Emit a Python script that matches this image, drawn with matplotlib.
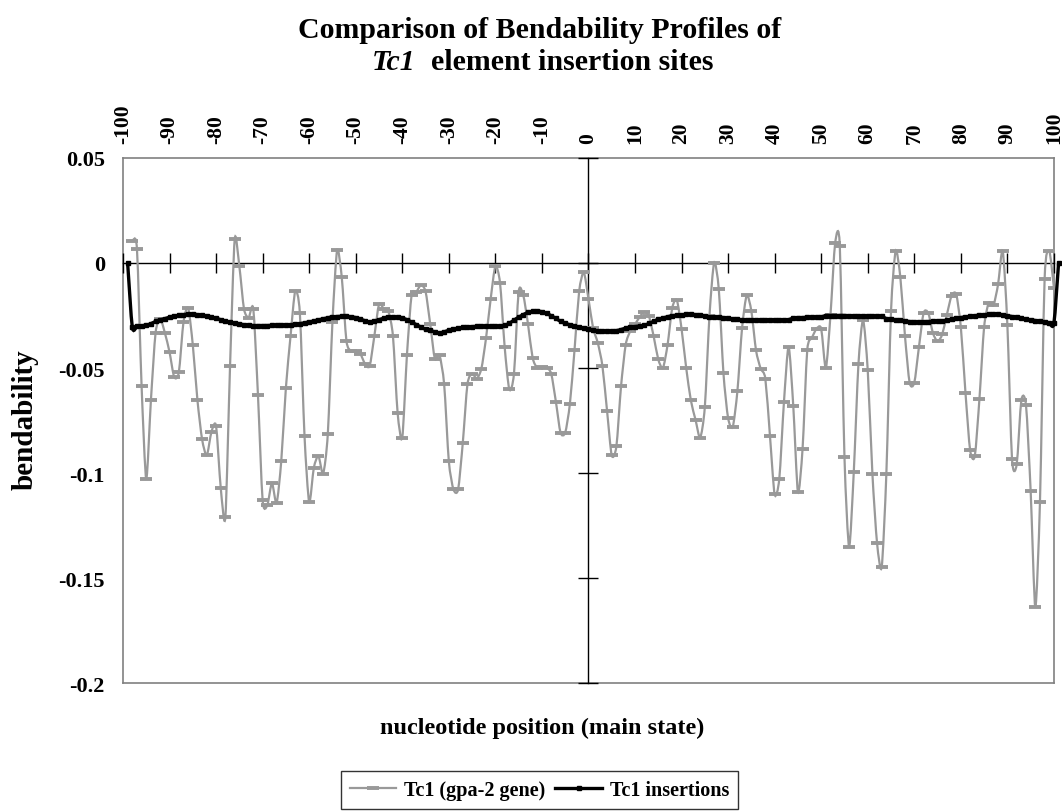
import matplotlib
matplotlib.use("Agg")
import matplotlib.pyplot as plt
from matplotlib.path import Path
from matplotlib.patches import PathPatch
from matplotlib.lines import Line2D
import numpy as np

plt.rcParams['font.family'] = ['Liberation Serif', 'DejaVu Serif']
plt.rcParams['font.weight'] = 'bold'

# Tc1 (gpa-2 gene): positions -98 .. 100
gene_start = -98
gene_vals = [
    0.0103, 0.0068, -0.0587, -0.1027, -0.0654, -0.0333, -0.0265, -0.0333, -0.0424, -0.0543,
    -0.0520, -0.0281, -0.0214, -0.0390, -0.0654, -0.0840, -0.0916, -0.0805, -0.0776, -0.1070,
    -0.1210, -0.0492, 0.0113, -0.0016, -0.0219, -0.0260, -0.0219, -0.0630, -0.1130, -0.1154,
    -0.1048, -0.1143, -0.0944, -0.0594, -0.0348, -0.0135, -0.0238, -0.0824, -0.1138, -0.0975,
    -0.0919, -0.1003, -0.0816, -0.0281, 0.0060, -0.0067, -0.0370, -0.0420, -0.0420, -0.0433,
    -0.0480, -0.0490, -0.0348, -0.0197, -0.0217, -0.0230, -0.0348, -0.0713, -0.0832, -0.0440,
    -0.0154, -0.0138, -0.0106, -0.0135, -0.0290, -0.0456, -0.0440, -0.0578, -0.0943, -0.1078,
    -0.1078, -0.0857, -0.0578, -0.0527, -0.0550, -0.0503, -0.0357, -0.0170, -0.0016, -0.0094,
    -0.0400, -0.0602, -0.0527, -0.0138, -0.0154, -0.0289, -0.0451, -0.0500, -0.0495, -0.0498,
    -0.0527, -0.0660, -0.0808, -0.0808, -0.0673, -0.0416, -0.0135, -0.0045, -0.0170,
    # 1 .. 100
    -0.0310, -0.0380, -0.0490, -0.0705, -0.0916, -0.0873, -0.0587, -0.0389, -0.0324, -0.0292,
    -0.0257, -0.0233, -0.0254, -0.0348, -0.0459, -0.0500, -0.0389, -0.0214, -0.0178, -0.0313,
    -0.0500, -0.0654, -0.0746, -0.0832, -0.0686, -0.0250, 0.0001, -0.0125, -0.0524, -0.0738,
    -0.0780, -0.0610, -0.0310, -0.0154, -0.0229, -0.0416, -0.0503, -0.0551, -0.0825, -0.1102,
    -0.1027, -0.0662, -0.0400, -0.0680, -0.1090, -0.0884, -0.0416, -0.0357, -0.0313, -0.0313,
    -0.0500, -0.0246, 0.0095, 0.0080, -0.0924, -0.1350, -0.0995, -0.0483, -0.0273, -0.0511,
    -0.1003, -0.1333, -0.1448, -0.1003, -0.0230, 0.0057, -0.0067, -0.0348, -0.0570, -0.0570,
    -0.0400, -0.0238, -0.0238, -0.0333, -0.0373, -0.0340, -0.0246, -0.0157, -0.0149, -0.0305,
    -0.0619, -0.0892, -0.0919, -0.0646, -0.0305, -0.0190, -0.0202, -0.0102, 0.0057, -0.0297,
    -0.0935, -0.0959, -0.0654, -0.0678, -0.1086, -0.1638, -0.1138, -0.0075, 0.0057, -0.0119,
]

# Tc1 insertions: positions -99 .. 101
ins_start = -99
ins_vals = [
    0.0000, -0.0305, -0.0302, -0.0299, -0.0296, -0.0289, -0.0278, -0.0271, -0.0265, -0.0258,
    -0.0253, -0.0249, -0.0246, -0.0244, -0.0244, -0.0246, -0.0249, -0.0254, -0.0258, -0.0263,
    -0.0270, -0.0277, -0.0283, -0.0287, -0.0290, -0.0294, -0.0297, -0.0298, -0.0298, -0.0298,
    -0.0298, -0.0297, -0.0297, -0.0296, -0.0295, -0.0294, -0.0292, -0.0289, -0.0285, -0.0281,
    -0.0276, -0.0271, -0.0266, -0.0261, -0.0257, -0.0255, -0.0254, -0.0254, -0.0256, -0.0260,
    -0.0267, -0.0275, -0.0281, -0.0277, -0.0270, -0.0263, -0.0257, -0.0257, -0.0259, -0.0262,
    -0.0270, -0.0282, -0.0293, -0.0305, -0.0316, -0.0321, -0.0328, -0.0333, -0.0328, -0.0320,
    -0.0315, -0.0310, -0.0307, -0.0305, -0.0303, -0.0302, -0.0302, -0.0302, -0.0302, -0.0302,
    -0.0302, -0.0297, -0.0287, -0.0272, -0.0258, -0.0246, -0.0235, -0.0230, -0.0229, -0.0232,
    -0.0240, -0.0251, -0.0264, -0.0278, -0.0287, -0.0294, -0.0300, -0.0305, -0.0310,
    # 0 .. 101
    -0.0315, -0.0320, -0.0324, -0.0324, -0.0324, -0.0324, -0.0322, -0.0317, -0.0310, -0.0306,
    -0.0303, -0.0300, -0.0297, -0.0288, -0.0278, -0.0268, -0.0262, -0.0256, -0.0251, -0.0249,
    -0.0247, -0.0245, -0.0244, -0.0246, -0.0248, -0.0252, -0.0257, -0.0258, -0.0259, -0.0260,
    -0.0263, -0.0266, -0.0269, -0.0270, -0.0270, -0.0270, -0.0270, -0.0270, -0.0270, -0.0270,
    -0.0270, -0.0270, -0.0270, -0.0270, -0.0262, -0.0260, -0.0260, -0.0259, -0.0258, -0.0257,
    -0.0257, -0.0250, -0.0250, -0.0250, -0.0250, -0.0250, -0.0251, -0.0251, -0.0252, -0.0252,
    -0.0253, -0.0253, -0.0254, -0.0254, -0.0265, -0.0268, -0.0270, -0.0272, -0.0276, -0.0279,
    -0.0281, -0.0281, -0.0280, -0.0279, -0.0278, -0.0277, -0.0276, -0.0272, -0.0267, -0.0263,
    -0.0260, -0.0257, -0.0254, -0.0251, -0.0249, -0.0247, -0.0244, -0.0241, -0.0243, -0.0247,
    -0.0251, -0.0255, -0.0259, -0.0263, -0.0267, -0.0271, -0.0274, -0.0278, -0.0282, -0.0286,
    -0.0286, 0.0000,
]

x_ticks = list(range(-100, 101, 10))
x_labels = [str(t) for t in x_ticks]
y_ticks = [0.05, 0.0, -0.05, -0.1, -0.15, -0.2]
y_labels = ["0.05", "0", "-0.05", "-0.1", "-0.15", "-0.2"]

gene_x = np.arange(gene_start, gene_start + len(gene_vals))
ins_x = np.arange(ins_start, ins_start + len(ins_vals))


def smooth_path(x, y, k=8.0):
    # Excel-like smoothed line: Catmull-Rom style segments as cubic Beziers
    pts = np.column_stack([x, y]).astype(float)
    n = len(pts)
    verts = [pts[0]]
    codes = [Path.MOVETO]
    for i in range(n - 1):
        p0 = pts[i - 1] if i > 0 else pts[i]
        p1 = pts[i]
        p2 = pts[i + 1]
        p3 = pts[i + 2] if i + 2 < n else pts[i + 1]
        verts += [p1 + (p2 - p0) / k, p2 - (p3 - p1) / k, p2]
        codes += [Path.CURVE4] * 3
    return Path(verts, codes)


fig = plt.figure(figsize=(10.62, 8.12), dpi=100)
rect = [0.1158, 0.1576, 0.8766, 0.6466]

# outer frame carrying the labels
frame = fig.add_axes(rect)
frame.set_xlim(-100, 100)
frame.set_ylim(-0.2, 0.05)
for s in frame.spines.values():
    s.set_color("#808080")
    s.set_linewidth(1.2)
frame.set_xticks(x_ticks, x_labels, rotation=90, fontsize=15.5, fontweight="bold")
frame.set_yticks(y_ticks, y_labels, fontsize=16, fontweight="bold")
frame.tick_params(axis="x", length=0, labeltop=True, labelbottom=False, pad=11)
frame.tick_params(axis="y", length=0, pad=13)

# axes crossing at (0, 0)
ax = fig.add_axes(rect)
ax.set_facecolor("none")
ax.set_xlim(-100, 100)
ax.set_ylim(-0.2, 0.05)
ax.spines["top"].set_visible(False)
ax.spines["right"].set_visible(False)
ax.spines["left"].set_position(("data", 0))
ax.spines["bottom"].set_position(("data", 0))
for s in ("left", "bottom"):
    ax.spines[s].set_color("black")
    ax.spines[s].set_linewidth(1)
ax.set_xticks(x_ticks)
ax.set_yticks(y_ticks)
ax.tick_params(direction="inout", length=14, width=1, labelleft=False, labelbottom=False)

gray = "#999999"
ax.add_patch(PathPatch(smooth_path(gene_x, gene_vals), fill=False, edgecolor=gray,
                       lw=1.6, zorder=3))
ax.plot(gene_x, gene_vals, ls="none", color=gray, marker="_", ms=8, mew=2.8, zorder=3)
ax.add_patch(PathPatch(smooth_path(ins_x, ins_vals), fill=False, edgecolor="black",
                       lw=2.4, zorder=4, clip_on=False))
ax.plot(ins_x, ins_vals, ls="none", color="black", marker="s", ms=2.8, zorder=4,
        clip_on=False)

fig.text(0.5085, 0.963, "Comparison of Bendability Profiles of", ha="center", va="center",
         fontsize=21.5, fontweight="bold")

# second title line: italic "Tc1" followed by upright text, centred as a whole
t_it = fig.text(0, 0.9236, "Tc1", ha="left", va="center", fontsize=21.5,
                fontweight="bold", fontstyle="italic")
t_rm = fig.text(0, 0.9236, "  element insertion sites", ha="left", va="center",
                fontsize=21.5, fontweight="bold")
renderer = fig.canvas.get_renderer()
w_it = t_it.get_window_extent(renderer).width / fig.bbox.width
w_rm = t_rm.get_window_extent(renderer).width / fig.bbox.width
x0 = 0.511 - (w_it + w_rm) / 2
t_it.set_x(x0)
t_rm.set_x(x0 + w_it)

fig.text(0.511, 0.1034, "nucleotide position (main state)", ha="center", va="center",
         fontsize=17.5, fontweight="bold")
fig.text(25 / 1062, 0.483, "bendability", rotation=90, ha="center", va="center",
         fontsize=21, fontweight="bold")

handles = [
    Line2D([], [], color=gray, lw=1.6, marker="_", ms=8, mew=2.8, label="Tc1 (gpa-2 gene)"),
    Line2D([], [], color="black", lw=2.4, marker="s", ms=2.8, label="Tc1 insertions"),
]
leg = fig.legend(handles=handles, loc="lower center", bbox_to_anchor=(0.508, 0.0),
                 ncol=2, frameon=True, fancybox=False, edgecolor="black",
                 prop={"size": 14.5, "weight": "bold"}, handlelength=2.3,
                 columnspacing=0.5, handletextpad=0.4, borderaxespad=0.1,
                 borderpad=0.45)
leg.get_frame().set_linewidth(1)

fig.savefig("out.png", dpi=100)
